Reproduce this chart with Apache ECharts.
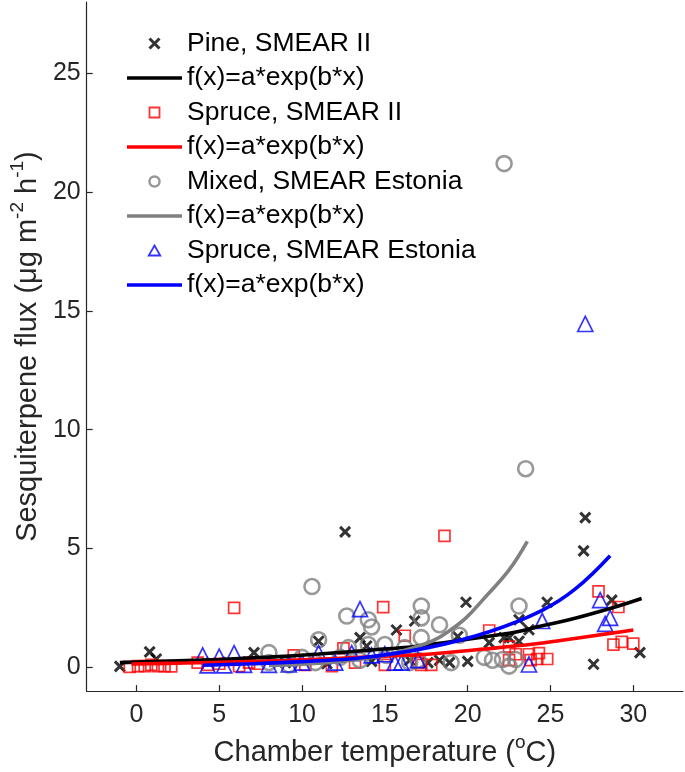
<!DOCTYPE html>
<html><head><meta charset="utf-8">
<script src="https://cdn.jsdelivr.net/npm/echarts@6/dist/echarts.min.js"></script>
<style>html,body{margin:0;padding:0;background:#fff}#c{width:685px;height:772px}</style>
</head><body><div id="c"></div>
<script>
// ---- data ----
const xTicks = [0, 5, 10, 15, 20, 25, 30];
const yTicks = [0, 5, 10, 15, 20, 25];

const pineSmear2 = [[-1.0,0.04],[0.8,0.65],[1.2,0.35],[7.1,0.62],[9.0,0.2],[11.0,1.1],[11.5,0.15],[12.6,5.7],[13.5,1.25],[13.9,0.9],[14.2,0.25],[15.7,1.57],[16.5,0.3],[16.8,1.95],[17.6,0.2],[18.3,0.3],[18.9,0.2],[19.4,1.3],[19.9,2.74],[20.0,0.25],[21.3,1.04],[22.2,1.25],[22.5,1.25],[23.1,1.1],[23.1,2.0],[23.7,1.58],[24.8,2.74],[27.0,4.9],[27.1,6.3],[27.6,0.13],[28.7,2.83],[30.4,0.62]];
const spruceSmear2 = [[-0.4,0.02],[0.1,0.05],[0.5,0.05],[0.9,0.1],[1.3,0.05],[1.7,0.05],[2.1,0.04],[3.7,0.2],[4.3,0.1],[5.0,0.15],[5.9,2.5],[6.2,0.05],[6.8,0.2],[7.3,0.15],[9.5,0.5],[10.2,0.1],[11.8,0.05],[12.5,0.8],[13.2,0.2],[14.9,2.53],[15.0,0.1],[16.2,1.33],[17.0,0.2],[17.2,0.1],[17.8,0.1],[18.6,5.53],[21.3,1.55],[22.5,0.87],[22.5,0.3],[22.9,0.55],[23.7,0.55],[23.8,0.3],[24.2,0.35],[24.3,0.6],[24.8,0.35],[27.9,3.2],[28.8,0.96],[29.1,2.54],[29.3,1.07],[30.0,1.0]];
const mixedEstonia = [[8.0,0.2],[8.0,0.62],[9.2,0.1],[10.0,0.42],[10.6,3.4],[10.8,0.2],[11.0,1.16],[12.3,0.42],[12.7,2.16],[12.8,0.83],[13.5,0.3],[14.0,2.0],[14.2,1.7],[14.0,0.96],[15.0,0.96],[15.1,0.5],[16.2,0.83],[16.5,0.2],[17.0,0.3],[17.2,2.58],[17.2,2.08],[17.2,1.25],[18.3,1.79],[19.0,0.2],[19.5,1.35],[21.0,0.42],[21.5,0.3],[22.1,0.33],[22.2,21.2],[22.5,0.05],[22.9,0.33],[23.1,2.58],[23.5,8.36]];
const spruceEstonia = [[4.0,0.5],[4.3,0.08],[5.0,0.45],[5.3,0.08],[5.9,0.6],[6.5,0.1],[8.0,0.1],[9.2,0.12],[10.0,0.2],[11.0,0.6],[12.0,0.2],[13.0,0.6],[13.5,2.45],[14.2,0.5],[15.0,0.55],[15.6,0.2],[16.0,0.2],[17.0,0.3],[23.7,0.12],[24.5,1.95],[27.1,14.45],[28.0,2.83],[28.3,1.83],[28.6,2.08]];

// fitted curves, points
const fitPine = [[-1,0.2],[2,0.26],[5,0.33],[8,0.43],[11,0.56],[14,0.72],[16.8,0.88],[20,1.18],[23,1.5],[24.5,1.75],[26,1.98],[28.7,2.5],[30.5,2.9]];
const fitSpruce = [[-0.3,0.14],[3,0.18],[6,0.23],[9,0.29],[12,0.37],[15,0.47],[17.6,0.55],[21,0.77],[24,0.98],[25.6,1.13],[28.8,1.45],[30,1.57]];
const fitMixed = [[8,0.08],[10,0.13],[12,0.23],[14,0.39],[16,0.68],[17.9,1.12],[18.9,1.54],[19.9,2.08],[20.9,2.83],[22.5,4.1],[23.6,5.3]];
const fitSpruceEst = [[4,0.09],[7,0.15],[10,0.24],[13.6,0.4],[17.6,0.83],[21.3,1.5],[24.5,2.4],[26.5,3.3],[28.6,4.7]];

const names = ['Pine, SMEAR II','fit1','Spruce, SMEAR II','fit2','Mixed, SMEAR Estonia','fit3','Spruce, SMEAR Estonia','fit4'];
const fitLabel = 'f(x)=a*exp(b*x)';

// ---- chart ----
const FONT = '"Liberation Sans", Arial, Helvetica, sans-serif';
const AX = '#262626';
const crossPath = 'path://M0,0L10,10M10,0L0,10';
const squarePath = 'path://M0,0H10V10H0Z';
const triPath = 'path://M5,0L10,8.66L0,8.66Z';
const barPath = 'path://M0,0H55V3.6H0Z';

function scatter(name, data, symbol, size, color, bw) {
  return { name, type: 'scatter', data, symbol, symbolSize: size,
    itemStyle: { color: 'rgba(0,0,0,0)', borderColor: color, borderWidth: bw },
    emphasis: { disabled: true }, animation: false };
}
function fit(name, data, color) {
  return { name, type: 'line', data, smooth: 0.4, showSymbol: false, symbol: 'none',
    lineStyle: { color, width: 3.6 }, itemStyle: { color },
    emphasis: { disabled: true }, animation: false };
}
function lineLegend(name, color) {
  return { name, icon: barPath, itemStyle: { color, borderWidth: 0 } };
}

const chart = echarts.init(document.getElementById('c'), null, { renderer: 'canvas' });
chart.setOption({
  backgroundColor: '#fff',
  animation: false,
  grid: { left: 85, right: 2, top: 2, bottom: 73, containLabel: false },
  xAxis: {
    type: 'value', min: -3, max: 33,
    axisLine: { onZero: false, lineStyle: { color: AX, width: 1.2 } },
    axisTick: { inside: true, length: 6, customValues: xTicks, lineStyle: { color: AX, width: 1.2 } },
    axisLabel: { customValues: xTicks, fontSize: 25, fontFamily: FONT, color: AX, margin: 12 },
    splitLine: { show: false },
    name: '{t|Chamber temperature (}{s|o}{t|C)}',
    nameLocation: 'middle', nameGap: 35,
    nameTextStyle: { color: AX, fontFamily: FONT, fontSize: 29,
      rich: { t: { fontSize: 29, fontFamily: FONT, color: AX, lineHeight: 34, verticalAlign: 'bottom' },
              s: { fontSize: 19, fontFamily: FONT, color: AX, lineHeight: 19, verticalAlign: 'top' } } }
  },
  yAxis: {
    type: 'value', min: -1, max: 28,
    axisLine: { onZero: false, lineStyle: { color: AX, width: 1.2 } },
    axisTick: { inside: true, length: 6, customValues: yTicks, lineStyle: { color: AX, width: 1.2 } },
    axisLabel: { customValues: yTicks, fontSize: 25, fontFamily: FONT, color: AX, margin: 6 },
    splitLine: { show: false },
    name: '{t|Sesquiterpene flux (μg m}{s|-2}{t| h}{s|-1}{t|)}',
    nameLocation: 'middle', nameGap: 39, nameRotate: 90,
    nameTextStyle: { color: AX, fontFamily: FONT, fontSize: 29,
      rich: { t: { fontSize: 29, fontFamily: FONT, color: AX, lineHeight: 34, verticalAlign: 'bottom' },
              s: { fontSize: 19, fontFamily: FONT, color: AX, lineHeight: 19, verticalAlign: 'top' } } }
  },
  legend: {
    orient: 'vertical', left: 122, top: 25, itemGap: 7.5, itemWidth: 55, itemHeight: 10,
    selectedMode: false,
    textStyle: { fontSize: 26.5, fontFamily: FONT, color: '#000' },
    formatter: n => n.indexOf('fit') === 0 ? fitLabel : n,
    data: [
      { name: names[0], icon: crossPath, itemStyle: { color: 'rgba(0,0,0,0)', borderColor: '#000', borderWidth: 3 } },
      lineLegend(names[1], '#000'),
      { name: names[2], icon: squarePath, itemStyle: { color: 'rgba(0,0,0,0)', borderColor: '#ff0000', borderWidth: 1.8 } },
      lineLegend(names[3], '#ff0000'),
      { name: names[4], icon: 'circle', itemStyle: { color: 'rgba(0,0,0,0)', borderColor: '#808080', borderWidth: 2.5 } },
      lineLegend(names[5], '#808080'),
      { name: names[6], icon: triPath, itemStyle: { color: 'rgba(0,0,0,0)', borderColor: '#0000ff', borderWidth: 1.8 } },
      lineLegend(names[7], '#0000ff')
    ]
  },
  series: [
    scatter(names[0], pineSmear2, crossPath, 10, '#000', 3),
    fit(names[1], fitPine, '#000'),
    scatter(names[2], spruceSmear2, squarePath, 11, '#ff0000', 1.7),
    fit(names[3], fitSpruce, '#ff0000'),
    scatter(names[4], mixedEstonia, 'circle', 15, '#808080', 2.6),
    fit(names[5], fitMixed, '#808080'),
    scatter(names[6], spruceEstonia, triPath, 15, '#0000ff', 1.7),
    fit(names[7], fitSpruceEst, '#0000ff')
  ]
});
</script></body></html>
